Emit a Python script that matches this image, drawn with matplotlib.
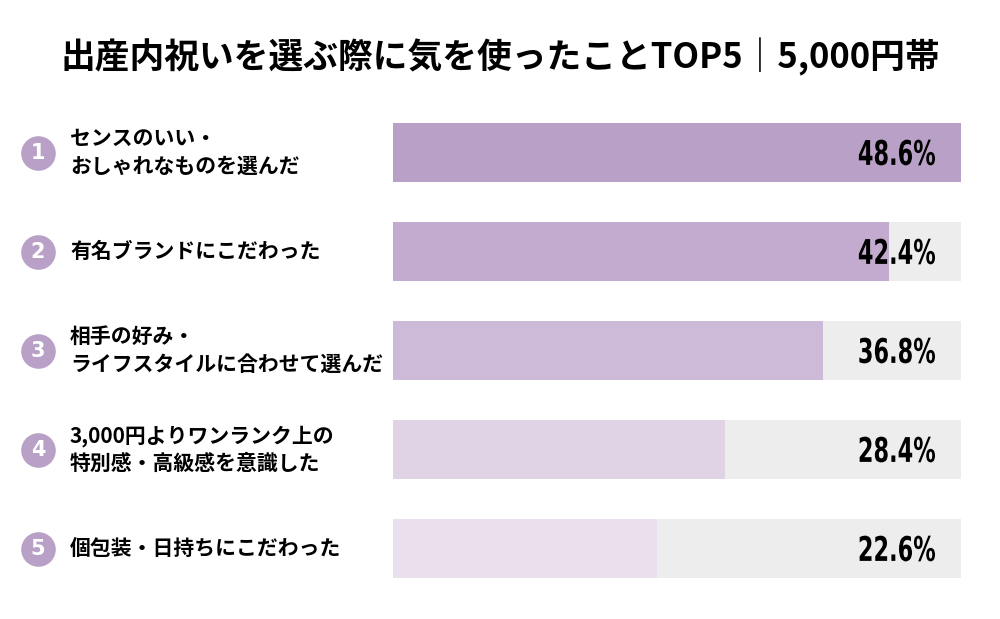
import matplotlib
matplotlib.use("Agg")
import matplotlib.pyplot as plt
import matplotlib.transforms as mtransforms
from matplotlib.textpath import TextPath
from matplotlib.patches import PathPatch
from matplotlib.font_manager import FontProperties

plt.rcParams['font.family'] = ['Noto Sans CJK JP', 'DejaVu Sans']

title = "出産内祝いを選ぶ際に気を使ったことTOP5｜5,000円帯"
labels = [
    "センスのいい・\nおしゃれなものを選んだ",
    "有名ブランドにこだわった",
    "相手の好み・\nライフスタイルに合わせて選んだ",
    "3,000円よりワンランク上の\n特別感・高級感を意識した",
    "個包装・日持ちにこだわった",
]
ranks = ["1", "2", "3", "4", "5"]
values = [48.6, 42.4, 36.8, 28.4, 22.6]
bar_colors = ["#b9a0c6", "#c3aacf", "#cdb9d8", "#e0d3e6", "#e9dfed"]
bg_color = "#ededed"
circle_color = "#b9a0c6"

fig = plt.figure(figsize=(10, 6.19), dpi=100)
ax = fig.add_axes([0.393, 0.0339, 0.568, 0.7997])

y = list(range(len(values)))
vmax = max(values)
ax.barh(y, [vmax] * len(values), height=0.6, color=bg_color, zorder=1)
ax.barh(y, values, height=0.6, color=bar_colors, zorder=2)
ax.set_xlim(0, vmax)
ax.set_ylim(len(values) - 0.5, -0.5)
ax.axis('off')

# condensed bold numbers: draw the text as a path squeezed horizontally
num_prop = FontProperties(family='DejaVu Sans', weight='bold')


def condensed_text(s, x_px, y_px, size_px, sx):
    tp = TextPath((0, 0), s, size=size_px, prop=num_prop)
    bb = tp.get_extents()
    tr = (mtransforms.Affine2D()
          .translate(-bb.x1, -(bb.y0 + bb.y1) / 2)
          .scale(sx, 1.0)
          .translate(x_px, y_px))
    fig.add_artist(PathPatch(tp, transform=tr, facecolor='black',
                             edgecolor='none', zorder=6))


trans = mtransforms.blended_transform_factory(fig.transFigure, ax.transData)
for i, (lab, rk, v) in enumerate(zip(labels, ranks, values)):
    ax.scatter([0.038], [i], s=620, color=circle_color, transform=trans,
               clip_on=False, zorder=3, linewidths=0)
    ax.text(0.038, i, rk, transform=trans, ha='center', va='center',
            color='white', fontsize=15, fontweight='bold',
            family=['DejaVu Sans'], zorder=4)
    ax.text(0.07, i, lab, transform=trans, ha='left', va='center',
            fontsize=15, fontweight='bold', linespacing=1.4)
    y_px = ax.transData.transform((0, i))[1]
    condensed_text(f"{v:.1f}%", 935, y_px, 34, 0.66)

fig.text(0.5, 1 - 57 / 619, title, ha='center', va='center',
         fontsize=25, fontweight='bold')

fig.savefig("out.png", dpi=100, facecolor='white')
